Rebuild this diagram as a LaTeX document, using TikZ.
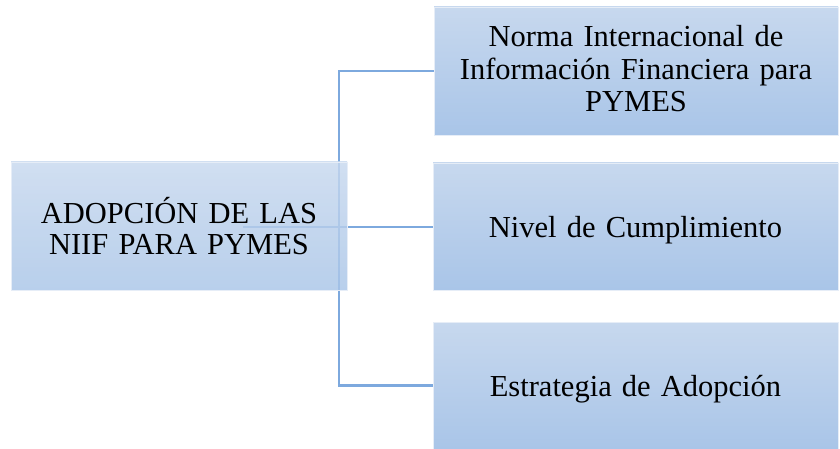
\documentclass[tikz,border=0pt]{standalone}
\usepackage{fontspec}
\setmainfont{Liberation Serif}
\definecolor{boxtop}{RGB}{199,216,238}
\definecolor{boxbot}{RGB}{169,197,232}
\definecolor{linec}{RGB}{125,169,222}
\begin{document}
\begin{tikzpicture}[x=1pt,y=-1pt,
  box/.style={draw=white!55!boxtop, line width=0.8pt, top color=boxtop, bottom color=boxbot, inner sep=0pt},
  conn/.style={draw=linec, line width=2.6pt},
  lbl/.style={font=\fontsize{30.5}{31}\selectfont, align=center, text width=390pt}]
\fill[white] (0,0) rectangle (840,449);
\useasboundingbox (0,0) rectangle (840,449);
% right boxes
\node[box, minimum width=404pt, minimum height=128pt] (A) at (636,71) {};
\node[box, minimum width=405pt, minimum height=127pt] (B) at (635.5,226.5) {};
\node[box, minimum width=405pt, minimum height=127pt] (C) at (635.5,385.5) {};
\node[lbl, font=\fontsize{30.5}{32.5}\selectfont] (At) at ([yshift=2pt]A.center) {Norma Internacional de\\Información Financiera para\\PYMES};
\node[lbl] (Bt) at ([yshift=-3.5pt]B.center) {Nivel de Cumplimiento};
\node[lbl] (Ct) at ([yshift=-3.5pt]C.center) {Estrategia de Adopción};
% connectors
\coordinate (J) at (339,227);
\coordinate (S) at (243,227);
\draw[conn] (S) -- (B.west |- S);
\draw[conn] (A.west) -| (J) |- (C.west);
% left box
\node[box, fill opacity=0.82, minimum width=336pt, minimum height=128pt] (L) at (179,226) {};
\node[lbl, text width=330pt] (Lt) at (L.center) {ADOPCIÓN DE LAS\\NIIF PARA PYMES};
\end{tikzpicture}
\end{document}
